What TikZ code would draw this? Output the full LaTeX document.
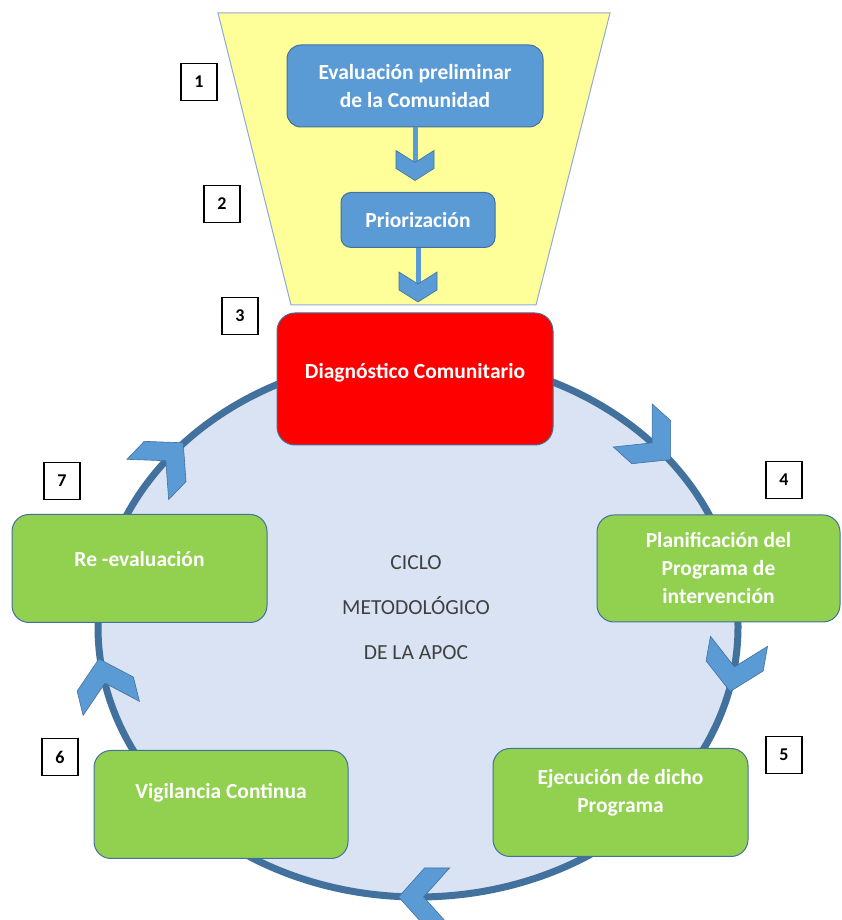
\documentclass[tikz,border=0pt]{standalone}
\usepackage{fontspec}
\setmainfont{Carlito}
\usepackage{tikz}
\usetikzlibrary{positioning}
\definecolor{azulcaja}{RGB}{91,155,213}
\definecolor{azulborde}{RGB}{65,113,156}
\definecolor{azulfondo}{RGB}{218,227,243}
\definecolor{amarillo}{RGB}{255,255,153}
\definecolor{bordeembudo}{RGB}{143,170,220}
\definecolor{verdecaja}{RGB}{146,208,80}
\definecolor{rojocaja}{RGB}{255,0,0}
\definecolor{grisletra}{RGB}{64,64,64}
\tikzset{
  caja/.style={draw=azulborde,line width=1pt,rounded corners=14pt,text=white,align=center,font=\fontsize{21.5}{28}\selectfont\bfseries},
  azul/.style={caja,fill=azulcaja},
  verde/.style={caja,fill=verdecaja,minimum width=254pt,minimum height=108pt,rounded corners=17pt},
  num/.style={draw=black,line width=1.2pt,fill=white,minimum width=36pt,minimum height=37pt,inner sep=0pt,font=\fontsize{18}{20}\selectfont\bfseries},
  tallo/.style={azulcaja,line width=5pt},
  punta/.style={fill=azulcaja,draw=azulborde,line width=0.6pt,line join=miter},
  anillo/.style={draw=azulborde,line width=7pt,fill=azulfondo}
}
\begin{document}
\begin{tikzpicture}[x=1pt,y=1pt]
\useasboundingbox (0,0) rectangle (841,920);
% ciclo
\draw[anillo] (418,293) ellipse [x radius=320, y radius=270];
\foreach \t/\r in {43/-42, -8.5/-100, -89/180, 192/104, 142/46}{
  \begin{scope}[shift={({418+320*cos(\t)},{293+270*sin(\t)})},rotate=\r]
    \filldraw[punta] (25,0) -- (-1,29) -- (-26,29) -- (0,0) -- (-26,-29) -- (-1,-29) -- cycle;
  \end{scope}
}
% embudo
\filldraw[fill=amarillo,draw=bordeembudo,line width=1pt] (218,907) -- (610,907) -- (536,615) -- (291,615) -- cycle;
\node[azul,minimum width=256pt,minimum height=82pt] (eval) at (415,834) {Evaluación preliminar\\de la Comunidad};
\node[azul,minimum width=154pt,minimum height=55pt,rounded corners=10pt] (prio) at (418,700) {Priorización};
\coordinate[below=35pt of eval.south] (m1);
\coordinate[below=36pt of prio.south] (m2);
\draw[tallo] (eval.south) -- (m1);
\draw[tallo] (prio.south) -- (m2);
\foreach \m in {m1,m2}{
  \begin{scope}[shift={(\m)},rotate=-90]
    \filldraw[punta] (18,0) -- (6,19) -- (-12,19) -- (0,0) -- (-12,-19) -- (6,-19) -- cycle;
  \end{scope}
}
% pasos
\node[caja,fill=rojocaja,minimum width=276pt,minimum height=132pt,rounded corners=18pt,text height=14pt,text depth=14pt] (diag) at (415,541) {Diagnóstico Comunitario};
\node[verde,minimum width=243pt,minimum height=107pt] (plan) at (718.5,351.5) {Planificación del\\Programa de\\intervención};
\node[verde,minimum width=255pt,text height=43pt,text depth=22pt] (ejec) at (620.5,117.5) {Ejecución de dicho\\Programa};
\node[verde,text height=14pt,text depth=26pt] (vig) at (221,115.5) {Vigilancia Continua};
\node[verde,minimum width=255pt,text height=14pt,text depth=18pt] (reev) at (139.5,351.5) {Re -evaluación};
\node[text=grisletra,align=center,font=\fontsize{21.5}{45}\selectfont] (ciclo) at (416,312) {CICLO\\METODOLÓGICO\\DE LA APOC};
% numeros
\foreach \n/\x/\y in {1/199/838, 2/222/716, 3/240/604, 4/784/440, 5/784/165, 6/60/163, 7/62/439}
  \node[num] (n\n) at (\x,\y) {\n};
\end{tikzpicture}
\end{document}
